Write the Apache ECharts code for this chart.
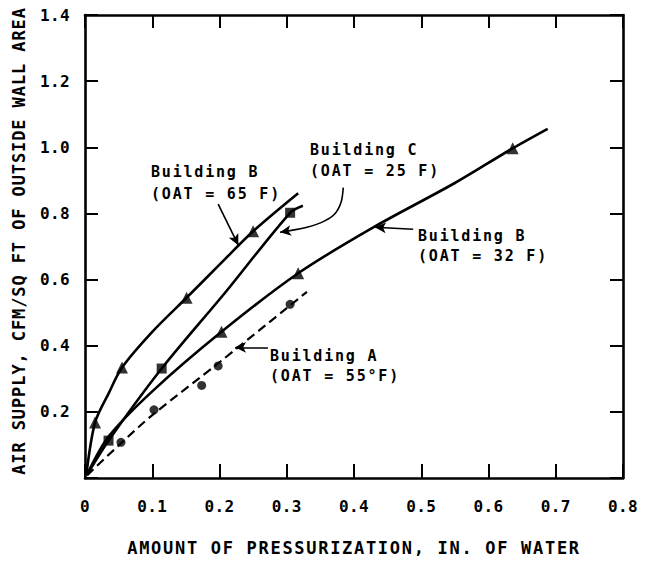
<!DOCTYPE html>
<html>
<head>
<meta charset="utf-8">
<script src="https://cdn.jsdelivr.net/npm/echarts@6/dist/echarts.min.js"></script>
<style>
html,body{margin:0;padding:0;background:#fff;}
#chart{width:656px;height:561px;}
</style>
</head>
<body>
<div id="chart"></div>
<script>
// ---- data ----
const xTickLabels = ['0','0.1','0.2','0.3','0.4','0.5','0.6','0.7','0.8'];
const yTickLabels = ['','0.2','0.4','0.6','0.8','1.0','1.2','1.4'];

// Building B (OAT = 65 F)
const b65Points = [[0.015,0.168],[0.055,0.334],[0.151,0.545],[0.250,0.746]];
const b65Curve  = [[0.002,0.01],[0.015,0.168],[0.035,0.255],[0.055,0.334],[0.10,0.442],[0.151,0.545],[0.20,0.645],[0.250,0.746],[0.317,0.861]];

// Building C (OAT = 25 F)
const cPoints = [[0.035,0.113],[0.114,0.331],[0.305,0.802]];
const cCurve  = [[0.003,0.01],[0.035,0.113],[0.114,0.331],[0.207,0.557],[0.305,0.802],[0.324,0.823]];

// Building B (OAT = 32 F)
const b32Points = [[0.203,0.442],[0.317,0.619],[0.636,0.997]];
const b32Curve  = [[0.003,0.01],[0.035,0.125],[0.10,0.262],[0.203,0.442],[0.317,0.619],[0.428,0.757],[0.55,0.892],[0.636,0.997],[0.688,1.056]];

// Building A (OAT = 55°F)
const aPoints = [[0.0535,0.108],[0.1026,0.206],[0.1735,0.280],[0.198,0.339],[0.305,0.525]];
const aCurve  = [[0.003,0.008],[0.0535,0.105],[0.10,0.19],[0.20,0.35],[0.330,0.563]];

// annotation arrows [from, to] in data units
const arrowB65 = [[0.198,0.828],[0.228,0.704]];
const arrowB32 = [[0.488,0.752],[0.431,0.758]];
const arrowA   = [[0.272,0.395],[0.223,0.395]];
// curved leader for Building C (path, then arrowhead segment)
const leaderC  = [[0.384,0.878],[0.381,0.835],[0.372,0.800],[0.355,0.776],[0.330,0.758],[0.305,0.748]];
const arrowC   = [[0.305,0.748],[0.290,0.743]];

const labelB65 = ['Building B','(OAT = 65 F)'];
const labelC   = ['Building C','(OAT = 25 F)'];
const labelB32 = ['Building B','(OAT = 32 F)'];
const labelA   = ['Building A','(OAT = 55°F)'];

const xTitle = 'AMOUNT OF PRESSURIZATION, IN. OF WATER';
const yTitle = 'AIR SUPPLY, CFM/SQ FT OF OUTSIDE WALL AREA';

// ---- chart ----
const FONT = '"DejaVu Sans Mono", "Liberation Mono", monospace';
const chart = echarts.init(document.getElementById('chart'), null, {renderer:'svg'});

const axisCommon = {
  type:'value',
  splitLine:{show:false},
  axisLine:{show:true, onZero:false, lineStyle:{color:'#000', width:2.6}},
  axisTick:{show:true, inside:true, length:13, lineStyle:{color:'#000', width:2}}
};

function curveSeries(data, dashed, width){
  return {
    type:'line', data:data, smooth:0.3, showSymbol:false, symbol:'none',
    lineStyle:{color:'#000', width: width || (dashed ? 2.2 : 2.6), type: dashed ? [9,5] : 'solid'},
    z:2, silent:true
  };
}
function pointSeries(data, symbol, size){
  return {
    type:'scatter', data:data, symbol:symbol, symbolSize:size,
    itemStyle:{color:'#000'}, z:3, silent:true
  };
}
function arrowSeries(arrows){
  return {
    type:'line', data:[], silent:true,
    markLine:{
      silent:true, animation:false,
      symbol:['none','arrow'], symbolSize:[8,11],
      label:{show:false},
      lineStyle:{color:'#000', width:1.6, type:'solid'},
      emphasis:{disabled:true},
      data: arrows.map(a=>[{coord:a[0]},{coord:a[1]}])
    }
  };
}
function textLines(lines, left, top1, gap){
  return lines.map((t,i)=>({
    type:'text', x:left, y:top1 + i*gap, silent:true,
    style:{text:t, fill:'#000', fontFamily:FONT, fontSize:15, fontWeight:'bold',
           textAlign:'left', textVerticalAlign:'middle'}
  }));
}

const option = {
  animation:false,
  backgroundColor:'#fff',
  grid:{left:85, top:15, right:33, bottom:71, containLabel:false},
  xAxis:[
    Object.assign({}, axisCommon, {
      position:'bottom', min:0, max:0.8, interval:0.1,
      axisTick:{show:true, inside:true, length:14, lineStyle:{color:'#000', width:2}},
      axisLabel:{margin:20, color:'#000', fontFamily:FONT, fontSize:16, fontWeight:'bold',
        formatter:(v)=>xTickLabels[Math.round(v/0.1)]},
      name:xTitle, nameLocation:'middle', nameGap:61,
      nameTextStyle:{color:'#000', fontFamily:FONT, fontSize:17, fontWeight:'bold'}
    }),
    Object.assign({}, axisCommon, {
      position:'top', min:0, max:0.8, interval:0.1,
      axisLabel:{show:false}
    })
  ],
  yAxis:[
    Object.assign({}, axisCommon, {
      position:'left', min:0, max:1.4, interval:0.2,
      axisLabel:{margin:15, color:'#000', fontFamily:FONT, fontSize:16, fontWeight:'bold',
        formatter:(v)=>yTickLabels[Math.round(v/0.2)]}
    }),
    Object.assign({}, axisCommon, {
      position:'right', min:0, max:1.4, interval:0.2,
      axisLabel:{show:false}
    })
  ],
  graphic:[
    {type:'text', x:19, y:241, rotation:Math.PI/2, silent:true,
     style:{text:yTitle, fill:'#000', fontFamily:FONT, fontSize:17, fontWeight:'bold',
            textAlign:'center', textVerticalAlign:'middle'}}
  ].concat(
    textLines(labelB65, 151, 172, 22),
    textLines(labelC, 310, 150, 21),
    textLines(labelB32, 418, 236, 20),
    textLines(labelA, 270, 356, 20)
  ),
  series:[
    curveSeries(b65Curve,false),
    curveSeries(cCurve,false),
    curveSeries(b32Curve,false),
    curveSeries(aCurve,true),
    pointSeries(b65Points,'triangle',12),
    pointSeries(b32Points,'triangle',12),
    pointSeries(cPoints,'rect',10),
    pointSeries(aPoints,'circle',9),
    arrowSeries([arrowB65, arrowB32, arrowA, arrowC]),
    curveSeries(leaderC,false,1.6)
  ]
};
chart.setOption(option);

function applySpacing(){
  document.querySelectorAll('#chart text').forEach(t=>{
    const s = t.textContent || '';
    let ls = 0.4;
    if (s === xTitle) ls = 1.7;
    else if (s === yTitle) ls = 0.9;
    else if (s.indexOf('Building') === 0 || s.indexOf('(OAT') === 0) ls = 1.8;
    t.style.letterSpacing = ls + 'px';
  });
}
applySpacing();
chart.on('finished', applySpacing);
setTimeout(applySpacing, 0);
</script>
</body>
</html>
